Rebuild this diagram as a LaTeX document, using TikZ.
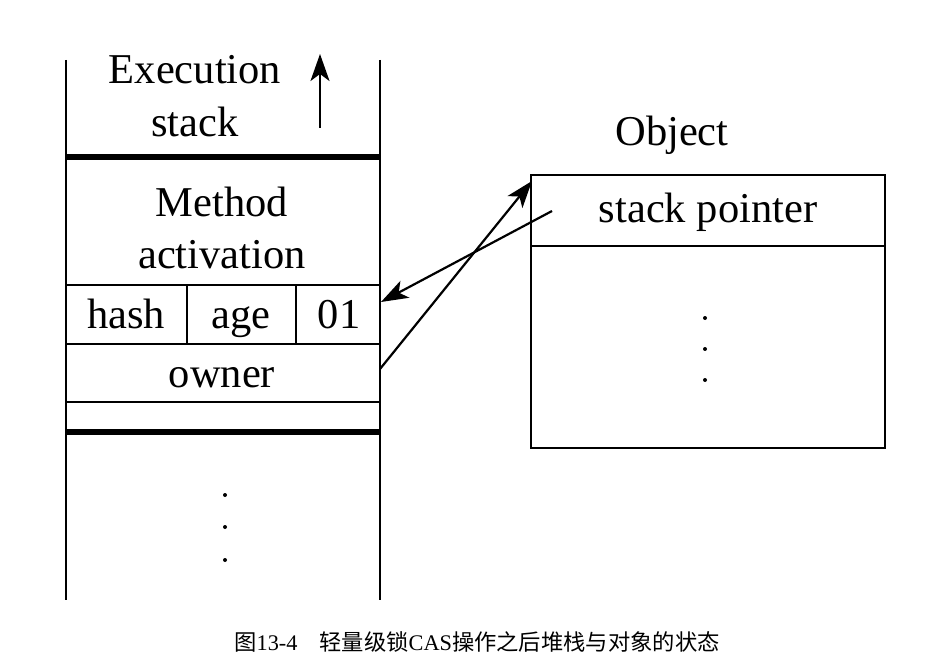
\documentclass[tikz,border=0pt]{standalone}
\usepackage{fontspec}
\setmainfont{Liberation Serif}
\newfontfamily\cjk{Noto Sans CJK SC}
\usetikzlibrary{arrows.meta}
\begin{document}
\begin{tikzpicture}[x=1pt,y=-1pt,
  thinln/.style={line width=2.2pt},
  thickln/.style={line width=6pt},
  lbl/.style={anchor=base, inner sep=0pt, font=\fontsize{42.5}{50}\selectfont},
  ptr/.style={line width=2.2pt, -{Stealth[length=27pt,width=19pt,inset=7pt]}},
  dotm/.style={circle, fill=black, inner sep=0pt, minimum size=4pt}]
\useasboundingbox (0,0) rectangle (950,666);
% execution stack
\draw[thinln] (66,60) -- (66,600);
\draw[thinln] (380,60) -- (380,600);
\draw[thickln] (66,157) -- (380,157);
\draw[thinln] (66,285) -- (380,285);
\draw[thinln] (66,344) -- (380,344);
\draw[thinln] (66,402) -- (380,402);
\draw[thickln] (66,432) -- (380,432);
\draw[thinln] (187,285) -- (187,344);
\draw[thinln] (296,285) -- (296,344);
\node[lbl] (exec) at (195,84) {Execution};
\node[lbl] (stk) at (195,136) {stack};
\coordinate (upA) at (320,128);
\coordinate (upB) at (320,54);
\draw[ptr] (upA) -- (upB);
\node[lbl] (meth) at (222,216) {Method};
\node[lbl] (act) at (222,268) {activation};
\node[lbl] (hash) at (126,328) {hash};
\node[lbl] (age) at (241,328) {age};
\node[lbl] (o1) at (339,328) {01};
\node[lbl] (owner) at (222,387) {owner};
\node[dotm] (d1) at (225,495) {};
\node[dotm] (d2) at (225,527) {};
\node[dotm] (d3) at (225,560) {};
% object
\draw[thinln] (531,175) rectangle (885,448);
\draw[thinln] (531,246) -- (885,246);
\node[lbl] (obj) at (672,146) {Object};
\node[lbl] (sp) at (708,222) {stack pointer};
\node[dotm] (e1) at (705,318) {};
\node[dotm] (e2) at (705,349) {};
\node[dotm] (e3) at (705,380) {};
% pointers
\coordinate (spS) at (552,211);
\coordinate (hdrE) at (381,302);
\coordinate (ownS) at (380,369);
\coordinate (objE) at (532,181);
\draw[ptr] (spS) -- (hdrE);
\draw[ptr] (ownS) -- (objE);
% caption
\node[anchor=base, inner sep=0pt, font=\fontsize{22.3}{26}\selectfont] (cap) at (477,650) {{\cjk 图}13-4\hspace{22pt}{\cjk 轻量级锁}CAS{\cjk 操作之后堆栈与对象的状态}};
\end{tikzpicture}
\end{document}
